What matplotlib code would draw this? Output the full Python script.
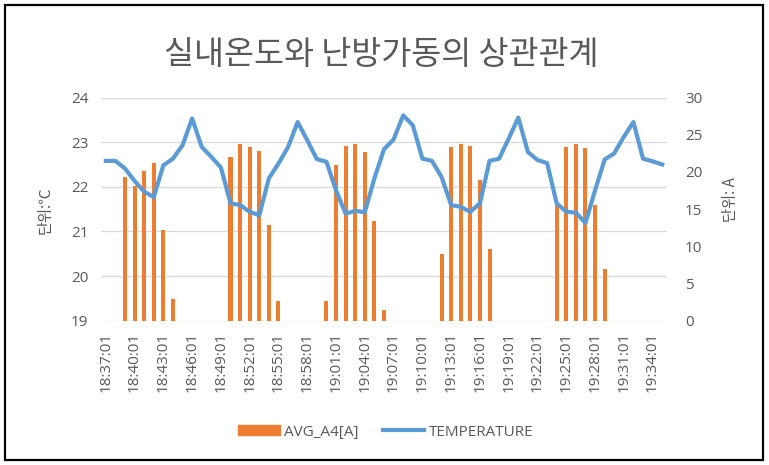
import matplotlib
matplotlib.use('Agg')
import matplotlib.pyplot as plt
from matplotlib.patches import Rectangle, Patch
from matplotlib.lines import Line2D
import numpy as np

plt.rcParams['font.family'] = ['Open Sans', 'Noto Sans CJK KR', 'DejaVu Sans']

# one sample per minute, 18:37:01 .. 19:35:01
times = ["%d:%02d:01" % (18 + (37 + m) // 60, (37 + m) % 60) for m in range(59)]

temperature = [22.58, 22.58, 22.41, 22.13, 21.89, 21.77, 22.48, 22.63, 22.93, 23.53,
               22.89, 22.67, 22.43, 21.63, 21.59, 21.44, 21.36, 22.19, 22.52, 22.89,
               23.45, 23.04, 22.62, 22.56, 21.92, 21.40, 21.46, 21.43, 22.19, 22.84,
               23.06, 23.60, 23.38, 22.63, 22.58, 22.22, 21.59, 21.55, 21.44, 21.63,
               22.58, 22.63, 23.08, 23.55, 22.78, 22.60, 22.53, 21.63, 21.44, 21.42,
               21.19, 21.92, 22.61, 22.75, 23.12, 23.45, 22.63, 22.57, 22.50]

avg_a4 = [0, 0, 19.3, 18.1, 20.1, 21.2, 12.2, 2.9, 0, 0,
          0, 0, 0, 22.0, 23.7, 23.4, 22.8, 12.8, 2.6, 0,
          0, 0, 0, 2.6, 20.9, 23.5, 23.7, 22.7, 13.4, 1.4,
          0, 0, 0, 0, 0, 8.9, 23.3, 23.7, 23.5, 18.9,
          9.6, 0, 0, 0, 0, 0, 0, 15.5, 23.4, 23.7,
          23.2, 15.5, 6.9, 0, 0, 0, 0, 0, 0]

bar_color = '#ED7D31'
line_color = '#5B9BD5'
text_color = '#595959'
grid_color = '#D9D9D9'

fig = plt.figure(figsize=(7.69, 4.65), dpi=100)
ax = fig.add_axes([101 / 769, 1 - 320.7 / 465, 566 / 769, 223.2 / 465])
x = np.arange(len(times))

# bars (right scale) drawn underneath
ax.bar(x, avg_a4, width=0.42, color=bar_color, zorder=2)
ax.set_ylim(0, 30)
ax.set_yticks(np.arange(0, 31, 5))
for v in [0, 6, 12, 18, 24, 30]:
    ax.axhline(v, color=grid_color, lw=0.9, zorder=0)

# temperature line (left scale) on top
ax2 = ax.twinx()
ax2.plot(x, temperature, color=line_color, lw=3, solid_joinstyle='round', zorder=3)
ax2.set_ylim(19, 24)
ax2.set_yticks(np.arange(19, 25, 1))

# swap sides after twinx (twinx resets them)
ax.yaxis.tick_right()
ax2.yaxis.tick_left()
ax.tick_params(axis='y', length=0, pad=13, labelsize=11, labelcolor=text_color)
ax2.tick_params(axis='y', length=0, pad=9, labelsize=11, labelcolor=text_color)

ax.set_xlim(-0.5, len(times) - 0.5)
ax.set_xticks(x[::3])
ax.set_xticklabels(times[::3], rotation=90)
ax.tick_params(axis='x', length=0, pad=8, labelsize=11, labelcolor=text_color)

for a in (ax, ax2):
    for s in a.spines.values():
        s.set_visible(False)

fig.text(381 / 769, 1 - 55 / 465, '실내온도와 난방가동의 상관관계', ha='center', va='center',
         fontsize=23.5, color=text_color, fontweight='light',
         family=['Noto Sans CJK KR', 'DejaVu Sans'])
fig.text(45 / 769, 1 - 210 / 465, '단위:℃', rotation=90, ha='center', va='center',
         fontsize=11, color=text_color, family=['Noto Sans CJK KR', 'DejaVu Sans'])
fig.text(730 / 769, 1 - 200 / 465, '단위: A', rotation=90, ha='center', va='center',
         fontsize=11, color=text_color, family=['Noto Sans CJK KR', 'DejaVu Sans'])

handles = [Patch(color=bar_color), Line2D([0], [0], color=line_color, lw=3)]
fig.legend(handles, ['AVG_A4[A]', 'TEMPERATURE'], loc='center',
           bbox_to_anchor=(386 / 769, 1 - 432 / 465), ncol=2, frameon=False,
           fontsize=11, labelcolor=text_color, handlelength=2.7, handleheight=0.6,
           handletextpad=0.3, columnspacing=1.6)

fig.patches.append(Rectangle((5 / 769, 5 / 465), 758 / 769, 455 / 465, transform=fig.transFigure,
                             fill=False, edgecolor='black', lw=1.6))

plt.savefig('out.png', dpi=100)
